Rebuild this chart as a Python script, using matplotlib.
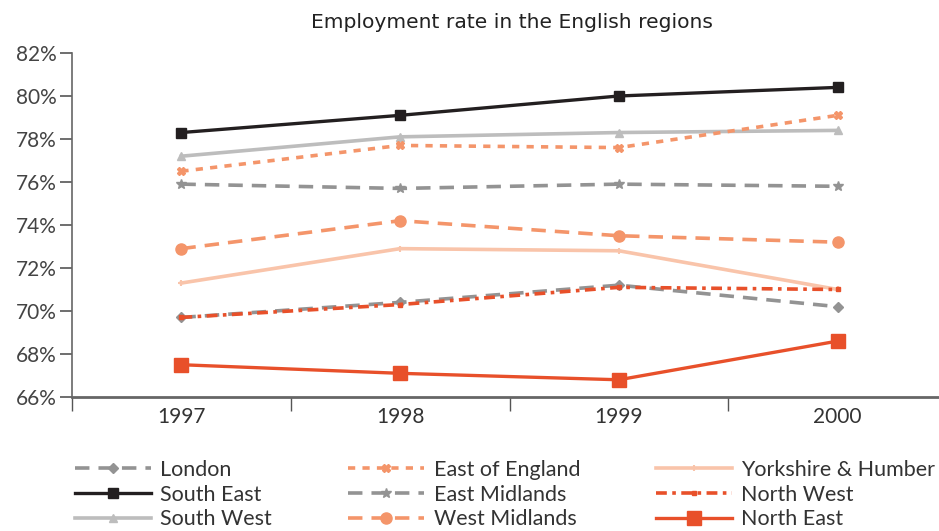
import matplotlib
matplotlib.use("Agg")
import matplotlib.pyplot as plt
from matplotlib.ticker import FuncFormatter, FixedLocator

years = ["1997", "1998", "1999", "2000"]

london = [69.7, 70.4, 71.2, 70.2]
south_east = [78.3, 79.1, 80.0, 80.4]
south_west = [77.2, 78.1, 78.3, 78.4]
east_of_england = [76.5, 77.7, 77.6, 79.1]
east_midlands = [75.9, 75.7, 75.9, 75.8]
west_midlands = [72.9, 74.2, 73.5, 73.2]
yorkshire = [71.3, 72.9, 72.8, 71.0]
north_west = [69.7, 70.3, 71.1, 71.0]
north_east = [67.5, 67.1, 66.8, 68.6]

BLACK = "#231f20"
LIGHT_GREY = "#bdbdbd"
GREY = "#939393"
SALMON = "#f4956a"
PEACH = "#f9c4aa"
RED = "#e8502a"

series = [
    ("London", london, dict(color=GREY, ls=(0, (4, 2.5)), lw=2.6, marker="D", ms=5)),
    ("South East", south_east, dict(color=BLACK, ls="-", lw=2.4, marker="s", ms=7)),
    ("South West", south_west, dict(color=LIGHT_GREY, ls="-", lw=2.6, marker="^", ms=6)),
    ("East of England", east_of_england, dict(color=SALMON, ls=(0, (2, 2)), lw=2.6, marker="X", ms=6)),
    ("East Midlands", east_midlands, dict(color=GREY, ls=(0, (4, 2.5)), lw=2.6, marker="*", ms=7)),
    ("West Midlands", west_midlands, dict(color=SALMON, ls=(0, (4, 2.5)), lw=2.6, marker="o", ms=8)),
    ("Yorkshire & Humber", yorkshire, dict(color=PEACH, ls="-", lw=2.6, marker="+", ms=5, mew=1.5)),
    ("North West", north_west, dict(color=RED, ls=(0, (3, 1.5, 1, 1.5)), lw=2.6, marker="s", ms=3.5)),
    ("North East", north_east, dict(color=RED, ls="-", lw=2.4, marker="s", ms=9.5)),
]

plt.rcParams["font.family"] = ["Lato", "DejaVu Sans"]

fig = plt.figure(figsize=(9.39, 5.31), dpi=100)
ax = fig.add_axes([0.0767, 0.2524, 0.9318, 0.6478])

x = list(range(len(years)))
for name, vals, style in series:
    ax.plot(x, vals, label=name, **style)

ax.set_xlim(-0.5, 3.5)
ax.set_ylim(66, 82)
ax.set_yticks(range(66, 83, 2))
ax.yaxis.set_major_formatter(FuncFormatter(lambda v, p: f"{v:.0f}%"))
ax.set_xticks(x)
ax.set_xticklabels(years)
ax.xaxis.set_minor_locator(FixedLocator([-0.5, 0.5, 1.5, 2.5, 3.5]))
ax.tick_params(axis="x", which="major", length=0, pad=7, labelsize=15, labelcolor="#333333")
ax.tick_params(axis="x", which="minor", length=10, width=1, color="#555555", direction="out")
ax.tick_params(axis="y", length=9, width=1.2, color="#555555", labelsize=15,
               labelcolor="#444444", pad=2)

for side in ("top", "right"):
    ax.spines[side].set_visible(False)
ax.spines["left"].set_color("#666666")
ax.spines["left"].set_linewidth(1.2)
ax.spines["bottom"].set_color("#666666")
ax.spines["bottom"].set_linewidth(2)

fig.text(0.545, 0.958, "Employment rate in the English regions", ha="center", va="center",
         fontsize=14.6, family="DejaVu Sans", color="#222222")

fig.legend(loc="lower left", bbox_to_anchor=(0.071, -0.013), ncol=3, frameon=False,
           prop={"size": 15.5}, handlelength=3.5, handletextpad=0.45,
           columnspacing=3.55, labelspacing=0.22, borderaxespad=0, labelcolor="#333333")

fig.savefig("out.png", dpi=100)
